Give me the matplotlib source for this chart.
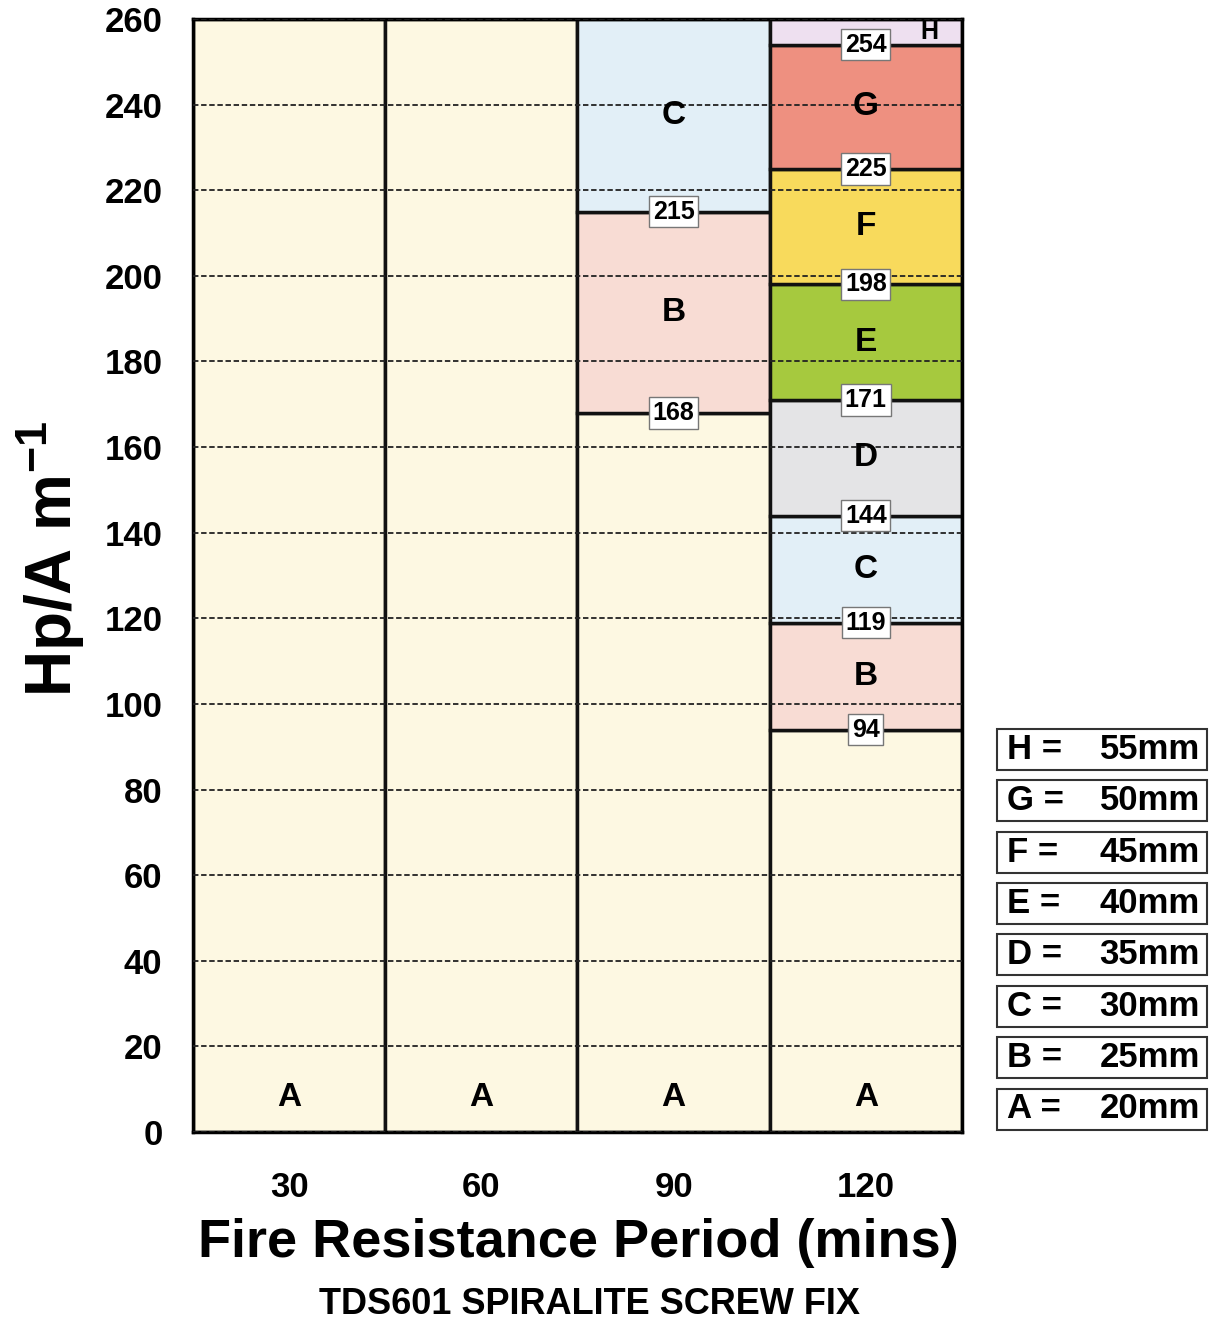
import matplotlib.pyplot as plt
from matplotlib.patches import Rectangle

plt.rcParams['font.family'] = ['Liberation Sans', 'DejaVu Sans']
plt.rcParams['font.weight'] = 'bold'
plt.rcParams['mathtext.default'] = 'regular'

periods = ['30', '60', '90', '120']
letters = ['A', 'B', 'C', 'D', 'E', 'F', 'G', 'H']
thickness = [20, 25, 30, 35, 40, 45, 50, 55]
# upper limit of each thickness band, per period (last band runs to the top)
limits = [
    [],
    [],
    [168, 215],
    [94, 119, 144, 171, 198, 225, 254],
]
ymax = 260
colors = ['#fdf8e2', '#f8dcd4', '#e2eff7', '#e4e4e6', '#a6c93e',
          '#f8da5c', '#ee9080', '#eee0f0']

fig = plt.figure(figsize=(12.1, 13.22), dpi=100)
ax = fig.add_axes([0.1595, 0.1437, 0.6355, 0.8419])

for i, lim in enumerate(limits):
    edges = [0] + lim + [ymax]
    for k in range(len(edges) - 1):
        lo, hi = edges[k], edges[k + 1]
        ax.bar(i, hi - lo, bottom=lo, width=1, color=colors[k],
               edgecolor='#111111', linewidth=2.5, zorder=1)
        if k == 0:
            ax.text(i, 8, letters[k], ha='center', va='center', fontsize=24, zorder=4)
        elif hi - lo < 10:
            ax.text(i + 0.33, (lo + hi) / 2, letters[k], ha='center', va='center',
                    fontsize=18, zorder=4)
        else:
            ax.text(i, (lo + hi) / 2, letters[k], ha='center', va='center',
                    fontsize=24, zorder=4)
    for v in lim:
        ax.text(i, v, str(v), ha='center', va='center', fontsize=18, zorder=5,
                bbox=dict(boxstyle='square,pad=0.15', fc='white', ec='#777777', lw=1))

ax.set_xlim(-0.5, 3.5)
ax.set_ylim(0, ymax)
ax.set_yticks(range(0, 261, 20))
ax.set_xticks(range(4))
ax.set_xticklabels(periods)
ax.tick_params(length=0, labelsize=25)
ax.tick_params(axis='y', pad=22)
ax.tick_params(axis='x', pad=28)
ax.set_axisbelow(False)
ax.yaxis.grid(True, linestyle=(0, (3, 1.5)), color='#222222', linewidth=1.3)
for s in ax.spines.values():
    s.set_linewidth(2.5)

fig.text(0.042, 0.577, 'Hp/A m$^{-1}$', rotation=90, ha='center', va='center',
         fontsize=46, fontweight='bold')
fig.text(0.478, 0.06, 'Fire Resistance Period (mins)', ha='center', va='center',
         fontsize=39, fontweight='bold')
fig.text(0.487, 0.013, 'TDS601 SPIRALITE SCREW FIX', ha='center', va='center',
         fontsize=26, fontweight='bold')

# legend boxes
W, H = 1210, 1322
for j, (l, t) in enumerate(zip(letters, thickness)):
    cy = 1109 - j * 51.4
    fig.add_artist(Rectangle((997 / W, 1 - (cy + 20.5) / H), 210 / W, 41 / H,
                             transform=fig.transFigure, fc='white', ec='#333333', lw=1.5))
    fig.text(1007 / W, 1 - cy / H, l + ' =', ha='left', va='center', fontsize=25)
    fig.text(1200 / W, 1 - cy / H, f'{t}mm', ha='right', va='center', fontsize=25)

fig.savefig('out.png', dpi=100)
